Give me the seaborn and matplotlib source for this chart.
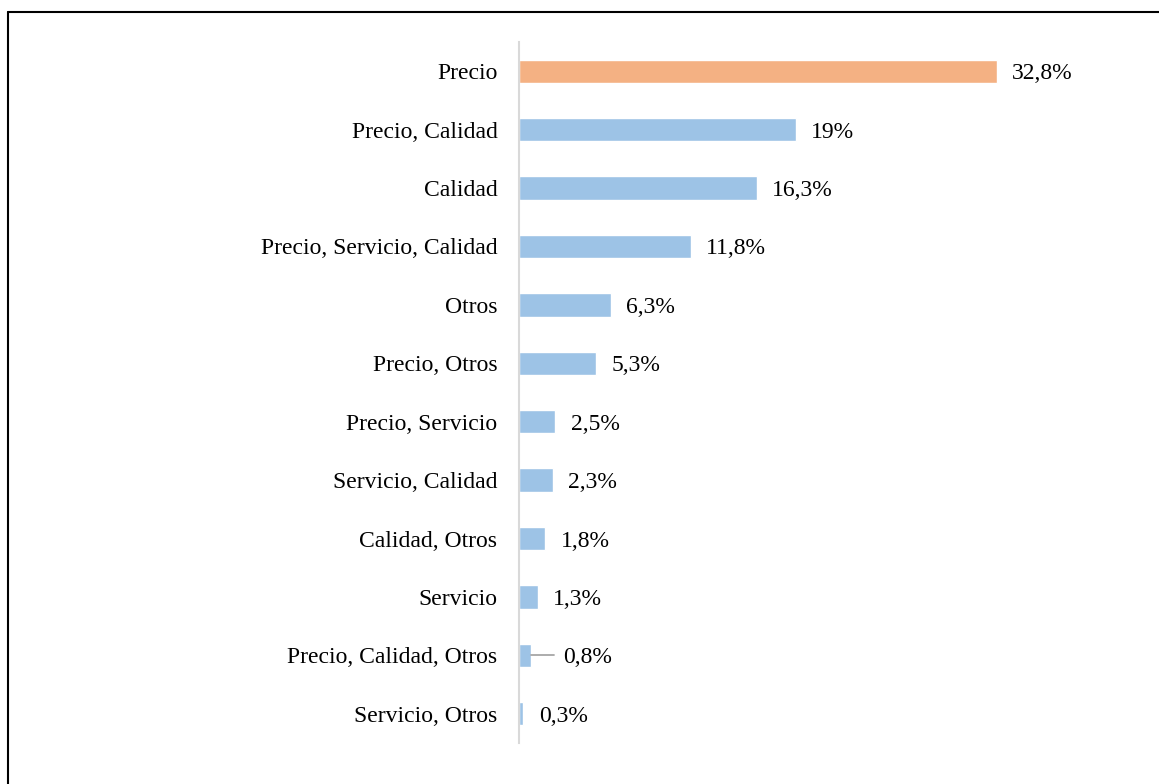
import matplotlib
matplotlib.use('Agg')
import matplotlib.pyplot as plt
import seaborn as sns
from matplotlib.lines import Line2D

# datos
categorias = ['Precio', 'Precio, Calidad', 'Calidad', 'Precio, Servicio, Calidad',
              'Otros', 'Precio, Otros', 'Precio, Servicio', 'Servicio, Calidad',
              'Calidad, Otros', 'Servicio', 'Precio, Calidad, Otros', 'Servicio, Otros']
valores = [32.8, 19.0, 16.3, 11.8, 6.3, 5.3, 2.5, 2.3, 1.8, 1.3, 0.8, 0.3]
etiquetas = ['32,8%', '19%', '16,3%', '11,8%', '6,3%', '5,3%', '2,5%', '2,3%',
             '1,8%', '1,3%', '0,8%', '0,3%']

azul = '#9DC3E6'
naranja = '#F4B183'
colores = [naranja] + [azul] * (len(categorias) - 1)

sns.set_style('white')
plt.rcParams['font.family'] = ['Liberation Serif', 'DejaVu Serif']
plt.rcParams['text.color'] = 'black'
plt.rcParams['ytick.color'] = 'black'

fs = 17

fig = plt.figure(figsize=(11.59, 7.84), dpi=100)
ax = fig.add_axes([519 / 1159, 1 - 743 / 784, (1102 - 519) / 1159, 701 / 784])

sns.barplot(x=valores, y=categorias, hue=categorias, palette=colores,
            saturation=1, legend=False, orient='h', width=0.4, ax=ax)

ax.set_xlim(0, 40)
ax.set_ylim(len(categorias) - 0.5, -0.5)
ax.set_xlabel('')
ax.set_ylabel('')
ax.set_xticks([])
ax.tick_params(axis='y', length=0, pad=15.5, labelsize=fs, labelcolor='black')

for s in ['top', 'right', 'bottom']:
    ax.spines[s].set_visible(False)
ax.spines['left'].set_color('#D9D9D9')
ax.spines['left'].set_linewidth(1.5)

# etiquetas de valor
for i, (v, t) in enumerate(zip(valores, etiquetas)):
    if t == '0,8%':
        # etiqueta desplazada con linea guia
        ax.plot([v, v + 1.6], [i, i], color='#A6A6A6', lw=1.3)
        ax.text(v + 2.25, i, t, fontsize=fs, va='center_baseline', ha='left')
    else:
        ax.text(v + 1.05, i, t, fontsize=fs, va='center_baseline', ha='left')

# marco superior e izquierdo
fig.add_artist(Line2D([7.5 / 1159, 7.5 / 1159], [0, 1 - 11.5 / 784], color='black', lw=1.5))
fig.add_artist(Line2D([7.5 / 1159, 1], [1 - 11.5 / 784, 1 - 11.5 / 784], color='black', lw=1.5))

fig.savefig('out.png', dpi=100)
